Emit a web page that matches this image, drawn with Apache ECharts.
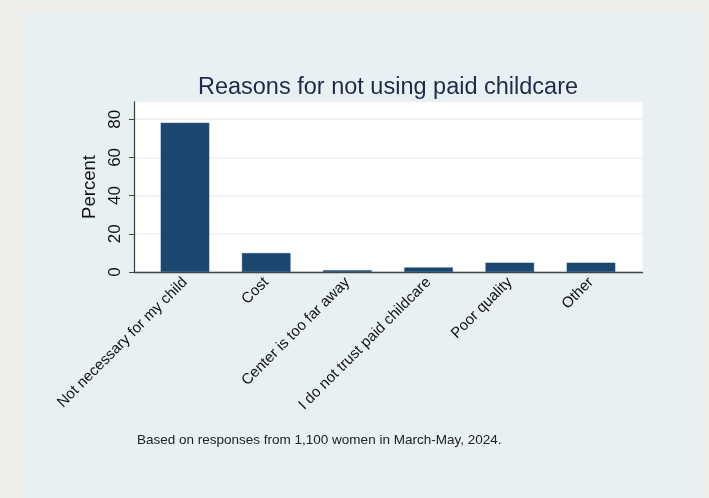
<!DOCTYPE html>
<html>
<head>
<meta charset="utf-8">
<script src="https://cdn.jsdelivr.net/npm/echarts@6/dist/echarts.min.js"></script>
<style>
html,body{margin:0;padding:0;background:#efedea;}
#panel{position:absolute;left:23px;top:12px;width:680px;height:486px;background:#e8f0f3;border-radius:3px 3px 0 0;}
#chart{position:absolute;left:0;top:0;width:709px;height:498px;}
</style>
</head>
<body>
<div id="panel"></div>
<div id="chart"></div>
<script>
const titleText = 'Reasons for not using paid childcare';
const noteText = 'Based on responses from 1,100 women in March-May, 2024.';
const categories = ['Not necessary for my child', 'Cost', 'Center is too far away', 'I do not trust paid childcare', 'Poor quality', 'Other'];
const percentValues = [78.1, 9.9, 0.9, 2.4, 4.9, 4.9];
const yTicks = [0, 20, 40, 60, 80];
const yMax = 89;

const chart = echarts.init(document.getElementById('chart'), null, {renderer: 'canvas'});
const font = 'Liberation Sans, Arial, sans-serif';
const plotTop = 102, plotBottom = 498 - 272;
chart.setOption({
  backgroundColor: 'transparent',
  title: [{
    text: titleText, left: 383, top: 71, textAlign: 'center',
    textStyle: {fontFamily: font, fontSize: 23.5, fontWeight: 'normal', color: '#1c2b4a'}
  }, {
    text: noteText, left: 132, top: 428,
    textStyle: {fontFamily: font, fontSize: 13.5, fontWeight: 'normal', color: '#222'}
  }],
  grid: [
    {left: 134, right: 709 - 642.5, top: plotTop, bottom: plotBottom, show: true, backgroundColor: '#ffffff', borderWidth: 0},
    {left: 144.4, width: 487.2, top: plotTop, bottom: plotBottom}
  ],
  xAxis: [
    {gridIndex: 0, type: 'value', min: 0, max: 1, axisLine: {show: true, onZero: false, lineStyle: {color: '#444', width: 1.3}}, axisTick: {show: false}, axisLabel: {show: false}, splitLine: {show: false}},
    {gridIndex: 1, type: 'category', data: categories, axisLine: {show: false}, axisTick: {show: false},
     axisLabel: {rotate: 45, interval: 0, margin: 8, fontFamily: font, fontSize: 15, color: '#111'}}
  ],
  yAxis: [
    {gridIndex: 0, type: 'value', min: 0, max: yMax,
     name: 'Percent', nameLocation: 'middle', nameGap: 33, nameRotate: 90,
     nameTextStyle: {fontFamily: font, fontSize: 18.5, color: '#111'},
     axisLine: {show: true, lineStyle: {color: '#444', width: 1.3}},
     axisTick: {show: true, length: 5, customValues: yTicks, lineStyle: {color: '#444'}},
     axisLabel: {rotate: 90, margin: 10, customValues: yTicks, fontFamily: font, fontSize: 17, color: '#111'},
     splitLine: {show: true, lineStyle: {color: '#eaf0f2', width: 1.5}}},
    {gridIndex: 1, type: 'value', min: 0, max: yMax, show: false, splitLine: {show: false}}
  ],
  series: [{
    type: 'bar', xAxisIndex: 1, yAxisIndex: 1, data: percentValues,
    barWidth: 48.6,
    itemStyle: {color: '#1a4670', borderColor: '#2a5580', borderWidth: 0.5},
    silent: true, animation: false
  }],
  animation: false
});
</script>
</body>
</html>
